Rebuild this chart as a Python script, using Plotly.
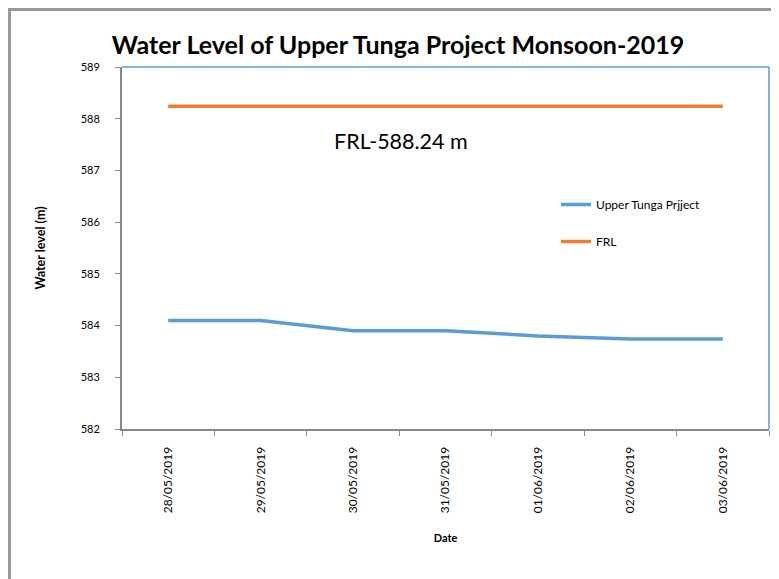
import plotly.graph_objects as go

dates = ["28/05/2019", "29/05/2019", "30/05/2019", "31/05/2019",
         "01/06/2019", "02/06/2019", "03/06/2019"]
upper_tunga = [584.10, 584.10, 583.90, 583.90, 583.80, 583.74, 583.74]
frl = [588.24, 588.24, 588.24, 588.24, 588.24, 588.24, 588.24]
y_ticks = [582, 583, 584, 585, 586, 587, 588, 589]

FONT = "Lato"
OFF = 8  # default page body margin
W, H = 779 - OFF, 579 - OFF
L, T = 122 - OFF, 67 - OFF
R = W - (769 - OFF)
B = H - (429 - OFF)
PW, PH = W - L - R, H - T - B

def px(x):
    return (x - OFF - L) / PW

def py(y):
    return (T + PH - (y - OFF)) / PH

fig = go.Figure()
fig.add_trace(go.Scatter(x=dates, y=upper_tunga, mode="lines", name="Upper Tunga Prjject",
                         line=dict(color="#5B9BD5", width=3.5), legendgroup="a"))
fig.add_trace(go.Scatter(x=dates, y=frl, mode="lines", name="FRL",
                         line=dict(color="#ED7D31", width=3.5), legendgroup="b"))

fig.update_layout(
    width=W, height=H,
    margin=dict(l=L, r=R, t=T, b=B),
    paper_bgcolor="white", plot_bgcolor="white",
    font=dict(family=FONT, color="#000000", size=11),
    title=dict(text="<b>Water Level of Upper Tunga Project Monsoon-2019</b>",
               font=dict(family=FONT, size=25, color="#000000"),
               x=(398 - OFF) / W, xanchor="center", y=1 - (45 - OFF) / H, yanchor="middle"),
    showlegend=True,
    legend=dict(x=px(556), y=py(190), xanchor="left", yanchor="top",
                font=dict(family=FONT, size=12, color="#000000"),
                tracegroupgap=18, bgcolor="rgba(0,0,0,0)"),
    xaxis=dict(type="category", range=[-0.5, 6.5], tickson="boundaries",
               ticks="outside", ticklen=5, tickcolor="#888888",
               showline=True, linecolor="#888888", linewidth=2,
               showgrid=False, tickangle=-90, ticklabelstandoff=11,
               tickfont=dict(family=FONT, size=12),
               title=dict(text="<b>Date</b>", font=dict(family=FONT, size=11), standoff=22)),
    yaxis=dict(range=[582, 589], tickvals=y_ticks, ticks="outside", ticklen=5,
               tickcolor="#888888", showline=True, linecolor="#888888", linewidth=2,
               showgrid=False, zeroline=False, ticklabelstandoff=13,
               tickfont=dict(family=FONT, size=11),
               title=dict(text="<b>Water level (m)</b>", font=dict(family=FONT, size=12.5), standoff=32)),
    annotations=[dict(text="FRL-588.24 m", xref="paper", yref="paper",
                      x=px(401), y=py(141), showarrow=False, yanchor="middle",
                      font=dict(family=FONT, size=21.5, color="#000000"))],
    shapes=[
        dict(type="line", xref="paper", yref="paper", x0=0, x1=1, y0=1, y1=1,
             line=dict(color="#5B9BD5", width=1.5), layer="below"),
        dict(type="line", xref="paper", yref="paper", x0=1, x1=1, y0=0, y1=1,
             line=dict(color="#5B9BD5", width=1.5), layer="below"),
        dict(type="line", xref="paper", yref="paper", x0=-L / PW, x1=(W - L) / PW,
             y0=py(OFF + 1.5), y1=py(OFF + 1.5), line=dict(color="#999999", width=3)),
        dict(type="line", xref="paper", yref="paper", x0=-(L - 1.5) / PW, x1=-(L - 1.5) / PW,
             y0=py(OFF), y1=py(579), line=dict(color="#999999", width=3)),
    ],
)

fig.write_html("out.html")
